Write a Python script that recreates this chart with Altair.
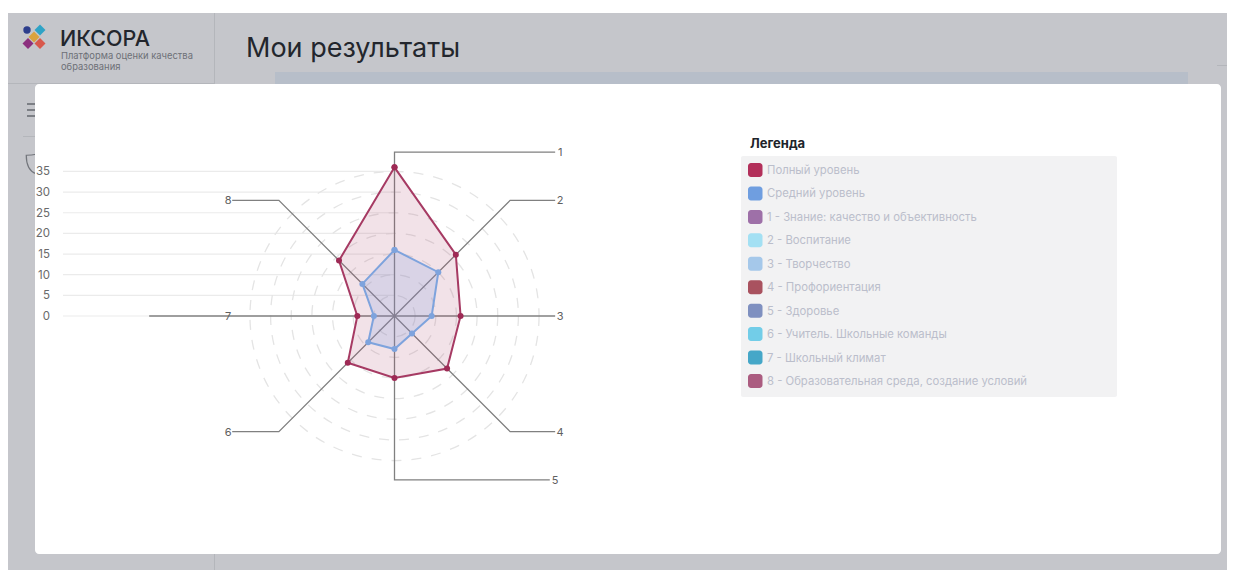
import altair as alt
import pandas as pd

FONT = "Inter"
axes = list(range(1, 9))
full_level = [36, 21, 16, 18, 15, 16, 9, 19]
mean_level = [16, 15, 9, 6, 8, 9, 5, 11]
ticks = [0, 5, 10, 15, 20, 25, 30, 35]
rings = [5, 10, 15, 20, 25, 30, 35]
legend_labels = ["Полный уровень", "Средний уровень", "1 - Знание: качество и объективность",
                 "2 - Воспитание", "3 - Творчество", "4 - Профориентация", "5 - Здоровье",
                 "6 - Учитель. Школьные команды", "7 - Школьный климат",
                 "8 - Образовательная среда, создание условий"]
legend_colors = ["#b22f5a", "#6f9ee0", "#9e70a8", "#a3e0f3", "#a5c8ea", "#a9525f",
                 "#7f90c0", "#72cde8", "#45a7c8", "#ab5c80"]
leader_paths = {
    1: [(0, 0), (0, 39.7), (38.9, 39.7)],
    2: [(0, 0), (28, 28), (38.9, 28)],
    3: [(0, 0), (38.9, 0)],
    4: [(0, 0), (28, -28), (38.9, -28)],
    5: [(0, 0), (0, -39.7), (37.6, -39.7)],
    6: [(0, 0), (-28, -28), (-39.3, -28)],
    7: [(0, 0), (-59.4, 0)],
    8: [(0, 0), (-28, 28), (-39.3, 28)],
}
label_at = {1: (40.1, 39.7), 2: (40.1, 28), 3: (40.1, 0), 4: (40.1, -28),
            5: (38.9, -39.7), 6: (-40.3, -28), 7: (-40.3, 0), 8: (-40.3, 28)}

W, H = 1219, 562
PX = 4.13
CX, CY = 386.5, 308
xs = alt.Scale(domain=[-CX / PX, (W - CX) / PX], range=[0, W], nice=False, zero=False)
ys = alt.Scale(domain=[-(H - CY) / PX, CY / PX], range=[H, 0], nice=False, zero=False)
one = alt.Data(values=[{"a": 1}])
P = lambda v: v - 8  # page pixel -> plot pixel


def box(x0, x1, y0, y1, color, **kw):
    return alt.Chart(one).mark_rect(color=color, **kw).encode(
        x=alt.value(P(x0)), x2=alt.value(P(x1)), y=alt.value(P(y0)), y2=alt.value(P(y1)))


def label(x, y, text, size, color, **kw):
    return alt.Chart(one).mark_text(text=text, fontSize=size, color=color, font=FONT,
                                    align=kw.pop("align", "left"), baseline="middle", **kw).encode(
        x=alt.value(P(x)), y=alt.value(P(y)))


def logo_piece(x, y, color, shape, size):
    return alt.Chart(one).mark_point(filled=True, shape=shape, size=size, color=color, opacity=1).encode(
        x=alt.value(P(x)), y=alt.value(P(y)))


GRAY = "#c5c6cb"
LINE = "#b4b6bb"
chrome = [
    box(8, 1235, 13, 570, GRAY),
    box(214, 215, 13, 84, LINE),
    box(214, 215, 554, 570, LINE),
    box(8, 214, 83, 84, LINE),
    box(275, 1188, 72, 84, "#b7bec9"),
    box(1217, 1235, 65, 66, LINE),
    box(27, 35, 103, 105, "#7c7f85"),
    box(27, 35, 109, 111, "#7c7f85"),
    box(27, 35, 115, 117, "#7c7f85"),
    box(23, 35, 136, 137, LINE),
    alt.Chart(one).mark_point(shape="M-1,-0.9 C-0.4,-0.9 0,-1 0,-1 C0,-1 0.5,-0.9 1,-0.9 C1,0 0.8,0.7 0,1 C-0.8,0.7 -1,0 -1,-0.9 Z",
                              size=380, stroke="#72757b", strokeWidth=1.2, fill=GRAY, fillOpacity=1, opacity=1).encode(
        x=alt.value(P(36)), y=alt.value(P(164))),
    logo_piece(27, 30, "#2d3e8c", "circle", 55),
    logo_piece(40, 30, "#2fa3c6", "diamond", 120),
    logo_piece(34, 37, "#dba33e", "diamond", 120),
    logo_piece(28, 43.5, "#8c2f7e", "diamond", 120),
    logo_piece(40, 43.5, "#d8584c", "diamond", 120),
    label(60, 39.5, "ИКСОРА", 21.5, "#23262d", fontWeight=500),
    label(61, 55.5, "Платформа оценки качества", 9.4, "#6d7077"),
    label(61, 66.5, "образования", 9.4, "#6d7077"),
    label(246, 48.5, "Мои результаты", 27, "#23262d"),
    box(35, 1221, 84, 554, "#ffffff", cornerRadius=4),
]

tick_df = pd.DataFrame({"v": ticks})
ring_df = pd.DataFrame({"v": rings, "c": 0})
leaders = pd.DataFrame([{"axis": a, "k": k, "x": p[0], "y": p[1]}
                        for a, path in leader_paths.items() for k, p in enumerate(path)])
axis_labels = pd.DataFrame([{"t": str(a), "x": label_at[a][0], "y": label_at[a][1]} for a in axes])


def series(vals):
    rows = [{"i": i, "r": r} for i, r in enumerate(vals)]
    rows.append({"i": len(vals), "r": vals[0]})
    return alt.Chart(pd.DataFrame(rows)).transform_calculate(
        px="datum.r*sin(datum.i*PI/4)", py="datum.r*cos(datum.i*PI/4)")


def poly(vals, stroke, fill, op):
    return series(vals).mark_line(stroke=stroke, strokeWidth=2, fill=fill, fillOpacity=op).encode(
        x=alt.X("px:Q", scale=xs, axis=None), y=alt.Y("py:Q", scale=ys, axis=None), order="i:Q")


def dots(vals, color):
    return series(vals).mark_circle(size=36, color=color, opacity=1).encode(
        x=alt.X("px:Q", scale=xs, axis=None), y=alt.Y("py:Q", scale=ys, axis=None))


grid = alt.Chart(tick_df).mark_rule(color="#ebebeb", strokeWidth=1.2).encode(
    x=alt.value(P(63)), x2=alt.value(CX), y=alt.Y("v:Q", scale=ys, axis=None))
tick_text = alt.Chart(tick_df).mark_text(align="right", baseline="middle", fontSize=11.5, dy=1, color="#6a6a6a", font=FONT).encode(
    x=alt.value(P(50)), y=alt.Y("v:Q", scale=ys, axis=None), text="v:Q")
ring_marks = alt.Chart(ring_df).mark_point(shape="circle", filled=False, stroke="#e4e4e4", strokeWidth=1.3, strokeDash=[10, 10], opacity=1).encode(
    x=alt.X("c:Q", scale=xs, axis=None), y=alt.Y("c:Q", scale=ys, axis=None),
    size=alt.Size("v:Q", legend=None, scale=alt.Scale(type="pow", exponent=2, domain=[0, 35], range=[0, (2 * 35 * PX) ** 2])))
leader_lines = alt.Chart(leaders).mark_line(color="#808080", strokeWidth=1.3).encode(
    x=alt.X("x:Q", scale=xs, axis=None), y=alt.Y("y:Q", scale=ys, axis=None),
    detail="axis:N", order="k:Q")
axis_text = alt.Chart(axis_labels).mark_text(fontSize=11, dy=1, color="#606060", font=FONT, baseline="middle").encode(
    x=alt.X("x:Q", scale=xs, axis=None), y=alt.Y("y:Q", scale=ys, axis=None), text="t:N")

main = alt.layer(*chrome, grid, tick_text, ring_marks, leader_lines,
                 poly(full_level, "#a63a63", "#a63a63", 0.15),
                 poly(mean_level, "#7ea3dd", "#7e9fdd", 0.22),
                 dots(full_level, "#9e2a55"), dots(mean_level, "#7ea3dd"), axis_text)

legend_df = pd.DataFrame({"label": legend_labels, "color": legend_colors})
row_scale = alt.Scale(type="band", domain=legend_labels, range=[P(163), P(388)], paddingInner=0.403, paddingOuter=0)
panel = box(741, 1117, 156, 397, "#f2f2f3", cornerRadius=2)
title = label(750, 144, "Легенда", 13, "#20232a", fontWeight="bold")
swatches = alt.Chart(legend_df).mark_rect(cornerRadius=3).encode(
    x=alt.value(P(748)), x2=alt.value(P(762.5)),
    y=alt.Y("label:N", scale=row_scale, axis=None),
    color=alt.Color("color:N", scale=None))
row_text = alt.Chart(legend_df).mark_text(align="left", baseline="middle", fontSize=11.3, dy=1, color="#bbbecb", font=FONT).encode(
    x=alt.value(P(767)),
    y=alt.Y("label:N", scale=alt.Scale(type="point", domain=legend_labels, range=[P(170), P(381)], padding=0), axis=None),
    text="label:N")

chart = alt.layer(main, panel, title, swatches).resolve_scale(y="independent")
chart = alt.layer(chart, row_text).resolve_scale(y="independent").properties(
    width=W, height=H, padding=0, background="#ffffff", autosize=alt.AutoSizeParams(type="none")
).configure_view(stroke=None)

chart.save("out.html", embed_options={"renderer": "svg", "actions": False})
